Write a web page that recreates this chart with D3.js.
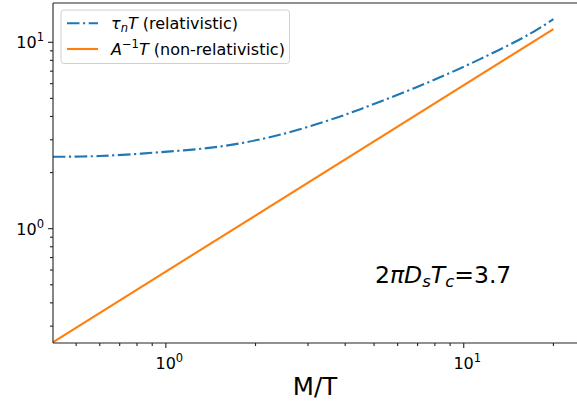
<!DOCTYPE html>
<html><head><meta charset="utf-8">
<script src="https://cdn.jsdelivr.net/npm/d3@7"></script>
<style>body{margin:0;background:#fff}svg{display:block;font-family:"DejaVu Sans",sans-serif}</style>
</head><body>
<svg id="c" width="577" height="402"></svg>
<script>
// ---- data ----
const relX = [0.418, 0.60, 0.95, 1.52, 2.32, 3.74, 5.23, 7.69, 11.3, 16.6, 20.0];
const relY = [2.43, 2.455, 2.57, 2.76, 3.14, 3.94, 4.80, 6.15, 8.1, 11.05, 13.3];
const nonRelX = [0.418, 20.0];
const nonRelY = [0.246, 11.78];
const xMajorTicks = [1, 10];
const yMajorTicks = [1, 10];
const xMinorTicks = [0.5, 0.6, 0.7, 0.8, 0.9, 2, 3, 4, 5, 6, 7, 8, 9, 20];
const yMinorTicks = [0.3, 0.4, 0.5, 0.6, 0.7, 0.8, 0.9, 2, 3, 4, 5, 6, 7, 8, 9];
const legendLabels = ["relativistic", "non-relativistic"];
const xLabel = "M/T";

// ---- layout ----
const svg = d3.select("#c");
const L = 53, R = 577, T = 3, B = 343;
const x = d3.scaleLog().domain([0.418, 24]).range([L, R]);
const y = d3.scaleLog().domain([0.2436, 16.25]).range([B, T]);

const blue = "#1f77b4", orange = "#ff7f0e";

svg.append("clipPath").attr("id", "clp").append("rect")
  .attr("x", L).attr("y", T).attr("width", R - L).attr("height", B - T);

const line = d3.line().x(d => x(d[0])).y(d => y(d[1])).curve(d3.curveCatmullRom.alpha(0.5));
const g = svg.append("g").attr("clip-path", "url(#clp)");
g.append("path").datum(relX.map((v, i) => [v, relY[i]]))
  .attr("d", line).attr("fill", "none").attr("stroke", blue)
  .attr("stroke-width", 2.1).attr("stroke-dasharray", "12.5,3.5,2.2,3.5");
g.append("path").datum(nonRelX.map((v, i) => [v, nonRelY[i]]))
  .attr("d", d3.line().x(d => x(d[0])).y(d => y(d[1]))).attr("fill", "none")
  .attr("stroke", orange).attr("stroke-width", 2.1);

// spines
const ax = svg.append("g").attr("stroke", "#222").attr("stroke-width", 1.1);
ax.append("line").attr("x1", L).attr("x2", L).attr("y1", T).attr("y2", B);
ax.append("line").attr("x1", L).attr("x2", R + 2).attr("y1", B).attr("y2", B);
ax.append("line").attr("x1", L).attr("x2", R + 2).attr("y1", T).attr("y2", T);

// ticks
xMajorTicks.forEach(v => ax.append("line").attr("x1", x(v)).attr("x2", x(v)).attr("y1", B).attr("y2", B + 5));
xMinorTicks.forEach(v => ax.append("line").attr("x1", x(v)).attr("x2", x(v)).attr("y1", B).attr("y2", B + 3));
yMajorTicks.forEach(v => ax.append("line").attr("x1", L).attr("x2", L - 5).attr("y1", y(v)).attr("y2", y(v)));
yMinorTicks.forEach(v => ax.append("line").attr("x1", L).attr("x2", L - 3).attr("y1", y(v)).attr("y2", y(v)));

function powLabel(sel, v) {
  const e = Math.round(Math.log10(v));
  sel.append("tspan").text("10");
  sel.append("tspan").attr("dy", -7).attr("font-size", 11.5).text(String(e));
}
xMajorTicks.forEach(v => {
  const t = svg.append("text").attr("x", x(v) + 3.5).attr("y", 368.5).attr("font-size", 16)
    .attr("text-anchor", "middle").attr("fill", "#000");
  powLabel(t, v);
});
yMajorTicks.forEach(v => {
  const t = svg.append("text").attr("x", 44).attr("y", y(v) + 6).attr("font-size", 16)
    .attr("text-anchor", "end").attr("fill", "#000");
  powLabel(t, v);
});

// x label
svg.append("text").attr("x", (L + R) / 2).attr("y", 395).attr("font-size", 24.5)
  .attr("text-anchor", "middle").text(xLabel);

// annotation
const ann = svg.append("text").attr("x", 375).attr("y", 283).attr("font-size", 23.5);
ann.append("tspan").text("2");
ann.append("tspan").attr("font-style", "italic").text("πD");
ann.append("tspan").attr("font-style", "italic").attr("font-size", 16.5).attr("dy", 4).text("s");
ann.append("tspan").attr("font-style", "italic").attr("dy", -4).text("T");
ann.append("tspan").attr("font-style", "italic").attr("font-size", 16.5).attr("dy", 4).text("c");
ann.append("tspan").attr("dy", -4).text("=3.7");

// legend
const lg = svg.append("g");
lg.append("rect").attr("x", 61).attr("y", 10).attr("width", 228.5).attr("height", 53.5)
  .attr("rx", 3).attr("fill", "#fff").attr("fill-opacity", 0.8).attr("stroke", "#d0d0d0").attr("stroke-width", 1);
lg.append("line").attr("x1", 67).attr("x2", 98).attr("y1", 23.3).attr("y2", 23.3)
  .attr("stroke", blue).attr("stroke-width", 2.1).attr("stroke-dasharray", "12.5,3.5,2.2,3.5");
lg.append("line").attr("x1", 67).attr("x2", 98).attr("y1", 49).attr("y2", 49)
  .attr("stroke", orange).attr("stroke-width", 2.1);
const t1 = lg.append("text").attr("x", 111).attr("y", 29).attr("font-size", 16);
t1.append("tspan").attr("font-style", "italic").text("τ");
t1.append("tspan").attr("font-style", "italic").attr("font-size", 11.5).attr("dy", 3).text("n");
t1.append("tspan").attr("font-style", "italic").attr("dy", -3).text("T");
t1.append("tspan").text(" (" + legendLabels[0] + ")");
const t2 = lg.append("text").attr("x", 111).attr("y", 54.5).attr("font-size", 16);
t2.append("tspan").attr("font-style", "italic").text("A");
t2.append("tspan").attr("font-size", 11.5).attr("dy", -7).text("−1");
t2.append("tspan").attr("font-style", "italic").attr("dy", 7).text("T");
t2.append("tspan").text(" (" + legendLabels[1] + ")");
</script>
</body></html>
